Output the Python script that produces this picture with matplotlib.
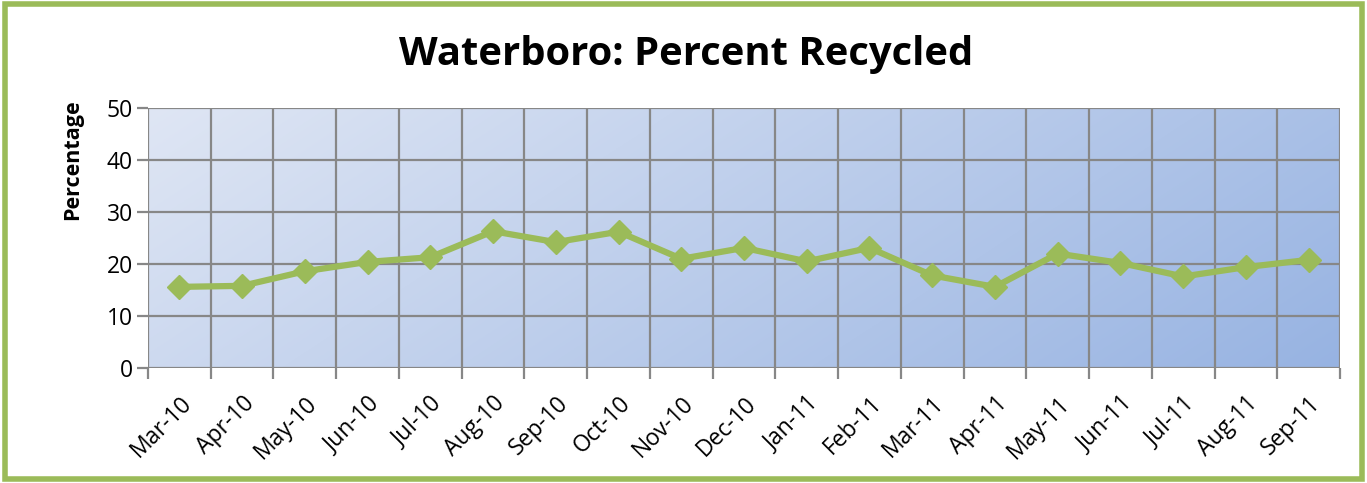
import matplotlib
matplotlib.use("Agg")
import matplotlib.pyplot as plt
import numpy as np
from matplotlib.patches import Rectangle

months = ["Mar-10", "Apr-10", "May-10", "Jun-10", "Jul-10", "Aug-10", "Sep-10",
          "Oct-10", "Nov-10", "Dec-10", "Jan-11", "Feb-11", "Mar-11", "Apr-11",
          "May-11", "Jun-11", "Jul-11", "Aug-11", "Sep-11"]
percent = [15.6, 15.8, 18.6, 20.4, 21.3, 26.3, 24.2, 26.2, 21.0, 23.1, 20.5,
           23.1, 17.8, 15.6, 22.0, 20.2, 17.6, 19.4, 20.8]
yticks = [0, 10, 20, 30, 40, 50]

plt.rcParams['font.family'] = ['Open Sans', 'DejaVu Sans']

W, H = 1367, 483
fig = plt.figure(figsize=(W / 100, H / 100), dpi=100)
fig.patch.set_facecolor('white')

# outer green border
border = Rectangle((5 / W, 4 / H), (W - 10) / W, (H - 8) / H,
                   transform=fig.transFigure, facecolor='none',
                   edgecolor='#9BBB59', linewidth=4, zorder=10)
fig.add_artist(border)

left, right, top, bottom = 148, 1340, 108, 368
ax = fig.add_axes([left / W, 1 - bottom / H, (right - left) / W, (bottom - top) / H])

n = len(months)
x = np.arange(n)
ax.set_xlim(-0.5, n - 0.5)
ax.set_ylim(0, 50)

# gradient background
gy, gx = np.mgrid[0:1:200j, 0:1:400j]
t = (gx * 0.75 + gy * 0.25)
c0 = np.array([0xDF, 0xE6, 0xF4]) / 255
c1 = np.array([0x97, 0xB3, 0xE2]) / 255
img = c0[None, None, :] * (1 - t[..., None]) + c1[None, None, :] * t[..., None]
ax.imshow(img, extent=[-0.5, n - 0.5, 0, 50], aspect='auto', origin='upper', zorder=0)

# grid
for yv in yticks:
    ax.axhline(yv, color='#878787', lw=1.6, zorder=1)
for k in range(n + 1):
    ax.axvline(k - 0.5, color='#878787', lw=1.6, zorder=1)

for s in ax.spines.values():
    s.set_visible(False)

ax.plot(x, percent, color='#9BBB59', lw=4.5, marker='D', markersize=12,
        markerfacecolor='#9BBB59', markeredgecolor='#9BBB59', zorder=3, clip_on=False)

ax.set_yticks(yticks)
ax.set_yticklabels([str(v) for v in yticks], fontsize=16.5)
ax.set_xticks(np.arange(n + 1) - 0.5, minor=False)
ax.set_xticklabels([''] * (n + 1))
ax.set_xticks(x, minor=True)
ax.set_xticklabels(months, minor=True, rotation=45, ha='right', rotation_mode='anchor',
                   fontsize=16.5)
ax.tick_params(axis='x', which='major', length=8, width=1.6, color='#878787')
ax.tick_params(axis='x', which='minor', length=0, pad=17)
ax.tick_params(axis='y', length=8, width=1.6, color='#878787', pad=3)

ax.set_ylabel('Percentage', fontsize=15.5, fontweight='bold')
ax.yaxis.set_label_coords(-0.0545, 0.80)

fig.text(686 / W, 1 - 55 / H, 'Waterboro: Percent Recycled',
         ha='center', va='center', fontsize=28.8, fontweight='bold')

fig.savefig('out.png', dpi=100)
